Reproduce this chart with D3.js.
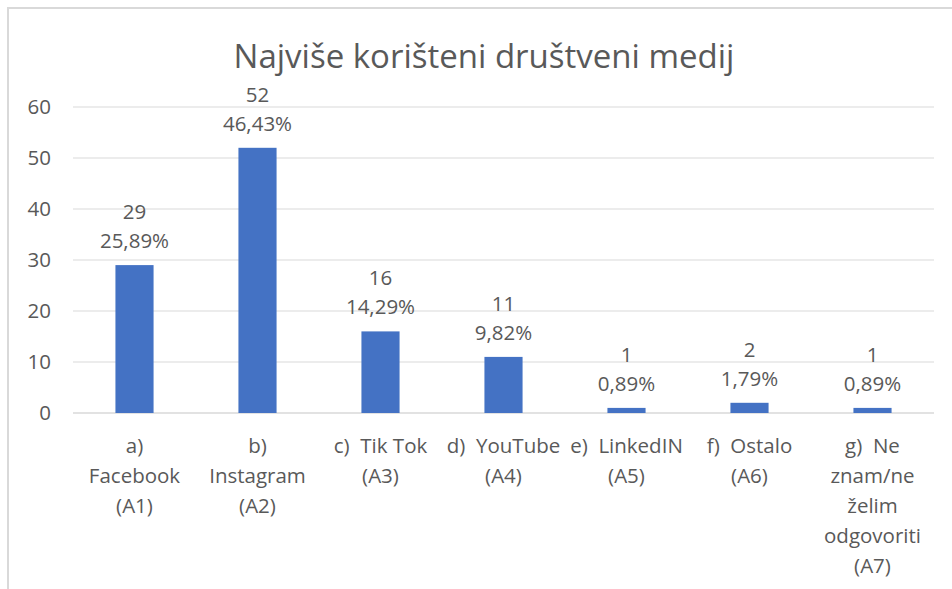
<!DOCTYPE html>
<html>
<head>
<meta charset="utf-8">
<script src="https://cdn.jsdelivr.net/npm/d3@7"></script>
<style>
  body { margin: 0; background: #fff; }
  text { font-family: "Open Sans", "Noto Sans", sans-serif; fill: #595959; }
</style>
</head>
<body>
<div id="chart"></div>
<script>
var categories = ["A1", "A2", "A3", "A4", "A5", "A6", "A7"];
var labelLines = [
    ["a)", "Facebook", "(A1)"],
    ["b)", "Instagram", "(A2)"],
    ["c)  Tik Tok", "(A3)"],
    ["d)  YouTube", "(A4)"],
    ["e)  LinkedIN", "(A5)"],
    ["f)  Ostalo", "(A6)"],
    ["g)  Ne", "znam/ne", "želim", "odgovoriti", "(A7)"]
];
var counts = [29, 52, 16, 11, 1, 2, 1];
var percents = ["25,89%", "46,43%", "14,29%", "9,82%", "0,89%", "1,79%", "0,89%"];
var yTicks = [0, 10, 20, 30, 40, 50, 60];

var width = 952, height = 589;
var margin = { top: 107, right: 18, bottom: 176, left: 73 },
    plotW = width - margin.left - margin.right,
    plotH = height - margin.top - margin.bottom;

var svg = d3.select("#chart").append("svg")
    .attr("width", width)
    .attr("height", height);

// frame (only top and left edges visible)
svg.append("line").attr("x1", 7).attr("y1", 8).attr("x2", width).attr("y2", 8)
    .style("stroke", "#d9d9d9").style("stroke-width", 2);
svg.append("line").attr("x1", 8).attr("y1", 7).attr("x2", 8).attr("y2", height)
    .style("stroke", "#d9d9d9").style("stroke-width", 2);

svg.append("text")
    .attr("x", 484)
    .attr("y", 68)
    .attr("text-anchor", "middle")
    .style("font-size", "33px")
    .text("Najviše korišteni društveni medij");

var g = svg.append("g")
    .attr("transform", "translate(" + margin.left + "," + margin.top + ")");

var x = d3.scaleBand().domain(categories).range([0, plotW]).paddingInner(0.69).paddingOuter(0.345);
var y = d3.scaleLinear().domain([0, 60]).range([plotH, 0]);

// gridlines
g.selectAll(".grid")
    .data(yTicks)
    .enter().append("line")
    .attr("x1", 0).attr("x2", plotW)
    .attr("y1", function (d) { return y(d); })
    .attr("y2", function (d) { return y(d); })
    .style("stroke", "#d9d9d9")
    .style("stroke-width", function (d) { return d == 0 ? 1.5 : 1; });

var yAxis = g.append("g")
    .call(d3.axisLeft(y).tickValues(yTicks).tickSize(0).tickPadding(22));
yAxis.select(".domain").remove();
yAxis.selectAll("text").style("font-size", "20.5px").style("fill", "#595959")
    .attr("font-family", null);

g.selectAll(".bar")
    .data(counts)
    .enter().append("rect")
    .attr("x", function (d, i) { return x(categories[i]); })
    .attr("width", x.bandwidth())
    .attr("y", function (d) { return y(d); })
    .attr("height", function (d) { return plotH - y(d); })
    .style("fill", "#4472c4");

var lbl = g.selectAll(".lbl")
    .data(counts)
    .enter().append("text")
    .attr("text-anchor", "middle")
    .style("font-size", "20.5px");
lbl.append("tspan")
    .attr("x", function (d, i) { return x(categories[i]) + x.bandwidth() / 2; })
    .attr("y", function (d) { return y(d) - 46; })
    .text(function (d) { return d; });
lbl.append("tspan")
    .attr("x", function (d, i) { return x(categories[i]) + x.bandwidth() / 2; })
    .attr("y", function (d) { return y(d) - 17; })
    .text(function (d, i) { return percents[i]; });

// category labels
var cat = g.selectAll(".cat")
    .data(labelLines)
    .enter().append("text")
    .attr("text-anchor", "middle")
    .style("font-size", "20.5px")
    .attr("transform", function (d, i) {
        return "translate(" + (x(categories[i]) + x.bandwidth() / 2) + "," + (plotH + 40) + ")";
    });
cat.selectAll("tspan")
    .data(function (d) { return d; })
    .enter().append("tspan")
    .attr("x", 0)
    .attr("y", function (d, i) { return i * 30; })
    .style("white-space", "pre")
    .text(function (d) { return d; });
</script>
</body>
</html>
